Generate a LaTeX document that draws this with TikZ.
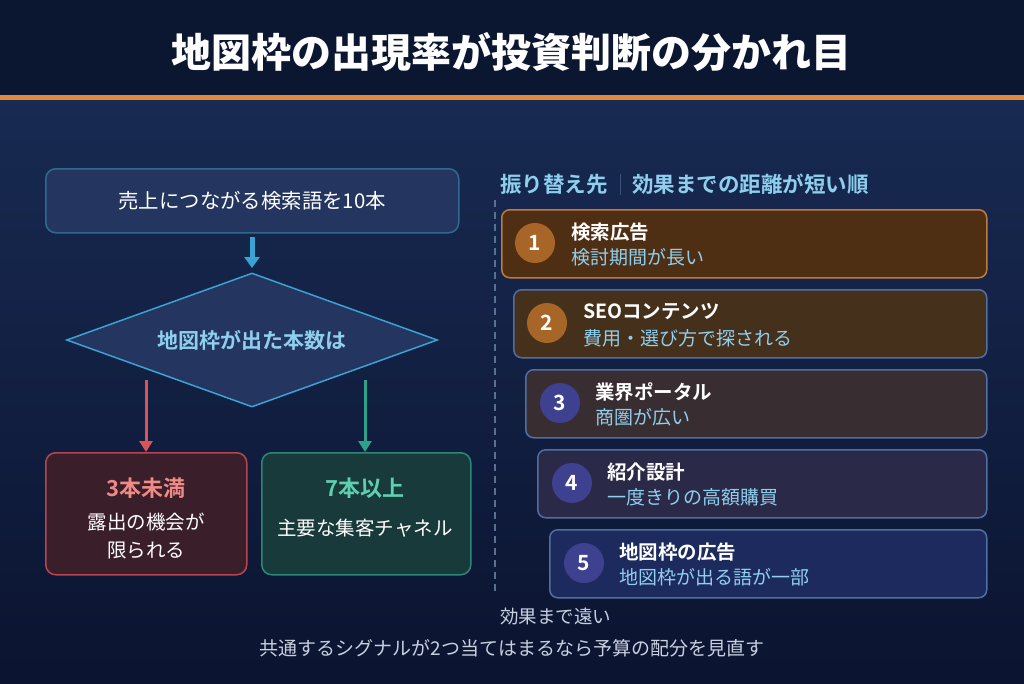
\documentclass[tikz,border=0pt]{standalone}
\usepackage{fontspec}
\setmainfont{Noto Sans CJK JP}[BoldFont={Noto Sans CJK JP Bold}]
\newfontfamily\titlefont{Noto Sans CJK JP Black}
\usetikzlibrary{shapes.geometric,arrows.meta,positioning}
\definecolor{hdr}{HTML}{0B1630}
\definecolor{orangeline}{HTML}{E08A3C}
\definecolor{bgtop}{HTML}{182A52}
\definecolor{bgbot}{HTML}{0B1430}
\definecolor{boxfill}{HTML}{243660}
\definecolor{boxline}{HTML}{2E6A8E}
\definecolor{flowblue}{HTML}{3AA3D3}
\definecolor{lightblue}{HTML}{8FCFEE}
\definecolor{redarrow}{HTML}{D9545A}
\definecolor{redfill}{HTML}{3A1E2A}
\definecolor{redline}{HTML}{B84450}
\definecolor{redtext}{HTML}{F08A86}
\definecolor{greenarrow}{HTML}{2FA08A}
\definecolor{greenfill}{HTML}{183A3A}
\definecolor{greenline}{HTML}{2A8878}
\definecolor{greentext}{HTML}{5ED0B0}
\definecolor{cardAfill}{HTML}{4F2F14}
\definecolor{cardAline}{HTML}{C07A3A}
\definecolor{cardBfill}{HTML}{45301C}
\definecolor{cardCfill}{HTML}{382D30}
\definecolor{cardDfill}{HTML}{2A2A48}
\definecolor{cardEfill}{HTML}{1C2A5E}
\definecolor{cardline}{HTML}{506EA0}
\definecolor{circorange}{HTML}{A86528}
\definecolor{circindigo}{HTML}{3E4090}
\definecolor{dashcol}{HTML}{5A7090}
\definecolor{foot}{HTML}{C8D0E0}
\tikzset{
  x=1pt,y=-1pt,
  roundbox/.style={rounded corners=10pt, line width=1.5pt, inner sep=0pt, anchor=north west},
  card/.style={rounded corners=8pt, line width=1.5pt, draw=cardline, anchor=north west, inner sep=0pt, minimum height=68pt},
  numcirc/.style={circle, minimum size=40pt, inner sep=0pt, text=white, font=\fontsize{21}{22}\selectfont\bfseries},
  cardtitle/.style={anchor=west, inner sep=0pt, text=white, font=\fontsize{19.5}{20}\selectfont\bfseries},
  cardsub/.style={anchor=west, inner sep=0pt, text=lightblue, font=\fontsize{19}{20}\selectfont},
  bigarrow/.style={line width=5pt, draw=flowblue, -{Triangle[width=15pt,length=11pt]}},
  redarr/.style={line width=3pt, draw=redarrow, -{Triangle[width=13pt,length=11pt]}},
  greenarr/.style={line width=3pt, draw=greenarrow, -{Triangle[width=13pt,length=11pt]}},
}
\begin{document}
\begin{tikzpicture}
\useasboundingbox (0,0) rectangle (1024,683);
% background
\shade[top color=bgtop, bottom color=bgbot] (0,100) rectangle (1024,683);
\fill[hdr] (0,0) rectangle (1024,95);
\fill[orangeline] (0,95) rectangle (1024,100);
\node[text=white, font=\fontsize{40}{44}\selectfont\titlefont] (title) at (511,52) {地図枠の出現率が投資判断の分かれ目};

% left flow
\node[roundbox, fill=boxfill, draw=boxline, minimum width=413pt, minimum height=64pt,
      text=white, font=\fontsize{20.4}{22}\selectfont] (start) at (45,168) {売上につながる検索語を10本};
\node[diamond, fill=boxfill, draw=flowblue, line width=1.5pt, minimum width=371pt, minimum height=134pt,
      aspect=2.77, inner sep=0pt, text=lightblue, font=\fontsize{21}{22}\selectfont\bfseries] (dec) at (252,340) {地図枠が出た本数は};
\coordinate (a1s) at (252,237);
\coordinate (a1e) at (252,268);
\draw[bigarrow] (a1s) -- (a1e);

\node[roundbox, fill=redfill, draw=redline, minimum width=201pt, minimum height=122pt] (low) at (45,452) {};
\node[roundbox, fill=greenfill, draw=greenline, minimum width=209pt, minimum height=122pt] (high) at (261,452) {};
\coordinate (rs) at (146,380);
\coordinate (gs) at (365,380);
\draw[redarr] (rs) -- (rs |- low.north);
\draw[greenarr] (gs) -- (gs |- high.north);

\node[text=redtext, font=\fontsize{22}{24}\selectfont\bfseries, inner sep=0pt] (lowt) at (146,488) {3本未満};
\node[text=white, font=\fontsize{19.5}{27.5}\selectfont, align=center, inner sep=0pt] (lowd) at (146,536) {露出の機会が\\限られる};
\node[text=greentext, font=\fontsize{22}{24}\selectfont\bfseries, inner sep=0pt] (hight) at (365,488) {7本以上};
\node[text=white, font=\fontsize{19.5}{22}\selectfont, inner sep=0pt] (highd) at (365,528) {主要な集客チャネル};

% right column
\node[anchor=west, inner sep=0pt, text=lightblue, font=\fontsize{21.5}{22}\selectfont\bfseries] (rh1) at (500,184) {振り替え先};
\node[anchor=west, inner sep=0pt, text=lightblue, font=\fontsize{21.5}{22}\selectfont\bfseries] (rh2) at (632,184) {効果までの距離が短い順};
\coordinate (sepA) at (620,174);
\coordinate (sepB) at (620,195);
\draw[line width=1pt, draw=dashcol!120] (sepA) -- (sepB);
\coordinate (dashA) at (495,200);
\coordinate (dashB) at (495,594);
\draw[line width=1.5pt, draw=dashcol, dash pattern=on 7pt off 5pt] (dashA) -- (dashB);

\node[card, fill=cardAfill, draw=cardAline, minimum width=485pt] (c1) at (501,209) {};
\node[card, fill=cardBfill, minimum width=473pt] (c2) at (513,289) {};
\node[card, fill=cardCfill, minimum width=461pt] (c3) at (525,369) {};
\node[card, fill=cardDfill, minimum width=449pt] (c4) at (537,449) {};
\node[card, fill=cardEfill, minimum width=437pt] (c5) at (549,529) {};

\node[numcirc, fill=circorange] (n1) at (535,243) {1};
\node[numcirc, fill=circorange] (n2) at (547,323) {2};
\node[numcirc, fill=circindigo] (n3) at (560,403) {3};
\node[numcirc, fill=circindigo] (n4) at (572,483) {4};
\node[numcirc, fill=circindigo] (n5) at (584,563) {5};

\node[cardtitle] (t1) at (571,232) {検索広告};
\node[cardsub]   (s1) at (571,257) {検討期間が長い};
\node[cardtitle] (t2) at (583,312) {SEOコンテンツ};
\node[cardsub]   (s2) at (583,338) {費用・選び方で探される};
\node[cardtitle] (t3) at (595,392) {業界ポータル};
\node[cardsub]   (s3) at (595,417) {商圏が広い};
\node[cardtitle] (t4) at (607,472) {紹介設計};
\node[cardsub]   (s4) at (607,497) {一度きりの高額購買};
\node[cardtitle] (t5) at (619,552) {地図枠の広告};
\node[cardsub]   (s5) at (619,577) {地図枠が出る語が一部};

% footer
\node[anchor=west, inner sep=0pt, text=foot, font=\fontsize{18.5}{20}\selectfont] (far) at (500,617) {効果まで遠い};
\node[inner sep=0pt, text=foot, font=\fontsize{19}{20}\selectfont] (note) at (512,648) {共通するシグナルが2つ当てはまるなら予算の配分を見直す};
\end{tikzpicture}
\end{document}
